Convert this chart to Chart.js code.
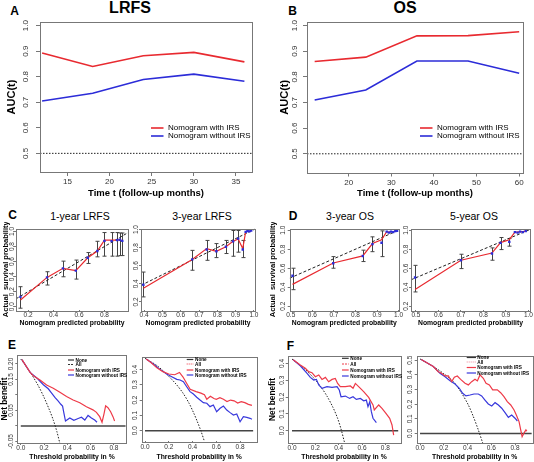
<!DOCTYPE html>
<html>
<head>
<meta charset="utf-8">
<script src="https://cdn.jsdelivr.net/npm/chart.js@4.4.1/dist/chart.umd.min.js"></script>
<style>
  html, body { margin: 0; padding: 0; background: #fff; }
  body { position: relative; width: 534px; height: 462px; overflow: hidden; font-family: 'Liberation Sans', Arial, sans-serif; }
  .t { position: absolute; transform: translate(-50%, -50%); white-space: nowrap; line-height: 1; color: #000; }
  .tag { font-weight: bold; font-size: 12px; }
  .big { font-weight: bold; font-size: 16px; }
  .sub { font-size: 10.5px; }
  canvas { position: absolute; }
</style>
</head>
<body>
<div class="t tag" style="left:14.5px;top:11px">A</div>
<div class="t big" style="left:130px;top:8px">LRFS</div>
<div class="t tag" style="left:292.5px;top:11px">B</div>
<div class="t big" style="left:405px;top:8px">OS</div>
<div class="t tag" style="left:12.5px;top:215px">C</div>
<div class="t sub" style="left:80px;top:215.5px">1-year LRFS</div>
<div class="t sub" style="left:202px;top:215.5px">3-year LRFS</div>
<div class="t tag" style="left:293px;top:216px">D</div>
<div class="t sub" style="left:350px;top:215.5px">3-year OS</div>
<div class="t sub" style="left:474px;top:215.5px">5-year OS</div>
<div class="t tag" style="left:12px;top:345px">E</div>
<div class="t tag" style="left:290.5px;top:345.5px">F</div>
<script>
// ---- A / B: time-dependent AUC ----
const lrfsMonths = [12, 18, 24, 30, 36];
const lrfsAucWith = [0.893, 0.840, 0.882, 0.895, 0.858];
const lrfsAucWithout = [0.705, 0.735, 0.789, 0.810, 0.782];
const osMonths = [12, 24, 36, 48, 60];
const osAucWith = [0.860, 0.877, 0.960, 0.961, 0.976];
const osAucWithout = [0.710, 0.749, 0.862, 0.862, 0.814];
const aucRef = 0.5;
const aucTicks = [0.5, 0.6, 0.7, 0.8, 0.9, 1.0];
const lrfsMonthTicks = [15, 20, 25, 30, 35];
const osMonthTicks = [20, 30, 40, 50, 60];
const modelNames = ['Nomogram with IRS', 'Nomogram without IRS'];

// ---- C / D: calibration (predicted, observed, fitted line, error bars) ----
const lrfs1Pred = [0.14, 0.349, 0.474, 0.575, 0.669, 0.744, 0.80, 0.856, 0.90, 0.92, 0.94];
const lrfs1Obs  = [0.13, 0.39, 0.51, 0.48, 0.65, 0.74, 0.876, 0.872, 0.885, 0.89, 0.875];
const lrfs1Fit  = [0.09, 0.39, 0.51, 0.48, 0.65, 0.74, 0.885, 0.885, 0.885, 0.89, 0.88];
const lrfs1Lo   = [-0.02, 0.288, 0.398, 0.367, 0.575, 0.663, 0.672, 0.672, 0.672, 0.68, 0.68];
const lrfs1Hi   = [0.266, 0.465, 0.606, 0.62, 0.72, 0.87, 0.986, 0.986, 0.986, 0.98, 0.98];

const lrfs3Pred = [0.396, 0.663, 0.742, 0.795, 0.847, 0.886, 0.914, 0.939, 0.955, 0.965, 0.975, 0.985];
const lrfs3Obs  = [0.39, 0.67, 0.78, 0.76, 0.81, 0.87, 0.90, 0.78, 0.975, 0.985, 0.98, 0.99];
const lrfs3Fit  = [0.35, 0.67, 0.79, 0.76, 0.81, 0.87, 0.895, 0.79, 0.975, 0.985, 0.98, 0.99];
const lrfs3Lo   = [0.255, 0.55, 0.66, 0.69, 0.735, 0.705, 0.75, 0.69, null, null, null, null];
const lrfs3Hi   = [0.53, 0.77, 0.88, 0.845, 0.88, 0.99, 0.99, 0.88, null, null, null, null];

const os3Pred = [0.508, 0.697, 0.834, 0.879, 0.921, 0.945, 0.955, 0.965, 0.975, 0.985, 0.993];
const os3Obs  = [0.52, 0.652, 0.729, 0.854, 0.868, 0.985, 0.975, 0.985, 0.98, 0.99, 0.995];
const os3Fit  = [0.43, 0.655, 0.73, 0.86, 0.90, 0.985, 0.98, 0.985, 0.985, 0.99, 0.995];
const os3Lo   = [0.374, 0.6, 0.67, 0.774, 0.722, null, null, null, null, null, null];
const os3Hi   = [0.6, 0.722, 0.79, 0.93, 0.993, null, null, null, null, null, null];

const os5Pred = [0.496, 0.70, 0.838, 0.876, 0.915, 0.94, 0.952, 0.963, 0.975, 0.988];
const os5Obs  = [0.502, 0.684, 0.754, 0.867, 0.877, 0.98, 0.975, 0.985, 0.98, 0.99];
const os5Fit  = [0.375, 0.684, 0.76, 0.87, 0.90, 0.98, 0.98, 0.985, 0.985, 0.99];
const os5Lo   = [0.35, 0.596, 0.684, 0.796, 0.832, null, null, null, null, null];
const os5Hi   = [0.63, 0.747, 0.814, 0.923, 0.912, null, null, null, null, null];

const calTicksFull = [0, 0.2, 0.4, 0.6, 0.8, 1.0];
const calTicks = [0.2, 0.4, 0.6, 0.8, 1.0];
const predTicksLrfs1 = [0.2, 0.4, 0.6, 0.8];
const predTicksFine = [0.4, 0.5, 0.6, 0.7, 0.8, 0.9, 1.0];
const predTicksOs = [0.5, 0.6, 0.7, 0.8, 0.9, 1.0];

// ---- E / F: decision curves ----
const dcaNames = ['None', 'All', 'Nomogram with IRS', 'Nomogram without IRS'];
const dcaNone = 0;
const dcaThrTicks = [0, 0.2, 0.4, 0.6, 0.8];

const e1AllT = [0, 0.05, 0.1, 0.15, 0.2, 0.25, 0.28, 0.31, 0.335];
const e1AllNB = [0.216, 0.19, 0.162, 0.13, 0.092, 0.048, 0.018, -0.018, -0.055];
const e1WithT = [0.01, 0.08, 0.108, 0.165, 0.222, 0.279, 0.336, 0.393, 0.45, 0.507, 0.564, 0.62, 0.65, 0.678, 0.698, 0.715, 0.729, 0.749, 0.772, 0.792, 0.806];
const e1WithNB = [0.214, 0.173, 0.162, 0.148, 0.132, 0.122, 0.109, 0.095, 0.084, 0.075, 0.062, 0.052, 0.044, 0.03, 0.012, 0.039, 0.065, 0.059, 0.046, 0.03, 0.016];
const e1WoT = [0.01, 0.08, 0.137, 0.194, 0.236, 0.265, 0.293, 0.322, 0.344, 0.359, 0.37, 0.384, 0.421, 0.456, 0.493, 0.521, 0.55, 0.578, 0.607, 0.635, 0.655];
const e1WoNB = [0.214, 0.173, 0.155, 0.133, 0.12, 0.106, 0.092, 0.08, 0.07, 0.064, 0.042, 0.016, 0.026, 0.018, 0.024, 0.028, 0.019, 0.034, 0.026, 0.019, 0.012];

const e3AllT = [0, 0.1, 0.18, 0.26, 0.32, 0.37, 0.41, 0.44, 0.47, 0.5];
const e3AllNB = [0.472, 0.425, 0.37, 0.305, 0.245, 0.18, 0.115, 0.06, 0.0, -0.07];
const e3WithT = [0.01, 0.05, 0.1, 0.15, 0.2, 0.25, 0.29, 0.32, 0.35, 0.38, 0.43, 0.47, 0.5, 0.52, 0.55, 0.58, 0.6, 0.63, 0.66, 0.69, 0.72, 0.75, 0.78, 0.81, 0.84, 0.87, 0.9];
const e3WithNB = [0.468, 0.445, 0.41, 0.385, 0.37, 0.365, 0.38, 0.35, 0.31, 0.27, 0.255, 0.245, 0.235, 0.205, 0.225, 0.21, 0.205, 0.215, 0.205, 0.19, 0.2, 0.195, 0.18, 0.19, 0.183, 0.172, 0.165];
const e3WoT = [0.01, 0.07, 0.126, 0.182, 0.225, 0.267, 0.295, 0.323, 0.351, 0.379, 0.407, 0.435, 0.463, 0.491, 0.52, 0.547, 0.575, 0.603, 0.632, 0.66, 0.688, 0.716, 0.744, 0.772, 0.8, 0.828, 0.856, 0.884, 0.9];
const e3WoNB = [0.468, 0.435, 0.4, 0.37, 0.352, 0.335, 0.331, 0.32, 0.287, 0.255, 0.239, 0.218, 0.2, 0.183, 0.179, 0.157, 0.168, 0.124, 0.146, 0.161, 0.135, 0.118, 0.102, 0.109, 0.058, 0.091, 0.087, 0.081, 0.075];

const f3AllT = [0, 0.1, 0.18, 0.25, 0.3, 0.35, 0.39, 0.42, 0.45];
const f3AllNB = [0.426, 0.372, 0.318, 0.258, 0.205, 0.14, 0.075, 0.01, -0.07];
const f3WithT = [0.01, 0.071, 0.114, 0.143, 0.171, 0.2, 0.229, 0.257, 0.286, 0.314, 0.343, 0.371, 0.391, 0.414, 0.457, 0.5, 0.523, 0.543, 0.571, 0.614, 0.657, 0.694, 0.705, 0.743, 0.771, 0.8, 0.837, 0.857, 0.871];
const f3WithNB = [0.422, 0.39, 0.371, 0.351, 0.345, 0.321, 0.331, 0.305, 0.317, 0.291, 0.305, 0.311, 0.281, 0.262, 0.262, 0.266, 0.252, 0.281, 0.262, 0.232, 0.198, 0.153, 0.123, 0.153, 0.133, 0.107, 0.074, 0.034, -0.026];
const f3WoT = [0.01, 0.071, 0.129, 0.157, 0.186, 0.209, 0.229, 0.257, 0.3, 0.343, 0.386, 0.405, 0.42, 0.457, 0.494, 0.523, 0.551, 0.586, 0.614, 0.637, 0.651, 0.666, 0.68, 0.694, 0.723];
const f3WoNB = [0.422, 0.386, 0.341, 0.317, 0.301, 0.305, 0.272, 0.252, 0.262, 0.258, 0.262, 0.242, 0.202, 0.206, 0.192, 0.202, 0.186, 0.192, 0.178, 0.182, 0.143, 0.172, 0.113, 0.074, 0.048];

const f5AllT = [0, 0.112, 0.196, 0.281, 0.351, 0.407, 0.449, 0.491, 0.53];
const f5AllNB = [0.508, 0.456, 0.41, 0.353, 0.274, 0.194, 0.115, 0.024, -0.07];
const f5WithT = [0.01, 0.112, 0.154, 0.182, 0.211, 0.239, 0.267, 0.289, 0.314, 0.342, 0.379, 0.407, 0.435, 0.463, 0.483, 0.505, 0.533, 0.556, 0.584, 0.612, 0.651, 0.679, 0.707, 0.735, 0.764, 0.792, 0.811, 0.834, 0.848, 0.86, 0.878, 0.892, 0.9];
const f5WithNB = [0.504, 0.456, 0.421, 0.41, 0.392, 0.392, 0.353, 0.383, 0.392, 0.369, 0.342, 0.331, 0.353, 0.369, 0.358, 0.399, 0.376, 0.342, 0.331, 0.297, 0.297, 0.278, 0.251, 0.217, 0.194, 0.16, 0.126, 0.081, 0.024, -0.022, 0.006, 0.024, 0.015];
const f5WoT = [0.01, 0.112, 0.168, 0.211, 0.253, 0.295, 0.331, 0.359, 0.387, 0.421, 0.455, 0.491, 0.519, 0.547, 0.575, 0.604, 0.632, 0.66, 0.688, 0.716, 0.744, 0.772, 0.8, 0.82];
const f5WoNB = [0.504, 0.456, 0.41, 0.387, 0.36, 0.337, 0.308, 0.274, 0.256, 0.262, 0.269, 0.269, 0.256, 0.228, 0.201, 0.187, 0.21, 0.194, 0.172, 0.142, 0.11, 0.126, 0.104, 0.085];

// ---- drawing ----
const FONT = "'Liberation Sans', Arial, Helvetica, sans-serif";
const RED = '#e82a30', BLUE = '#2c2cd8', DRED = '#ee3a48', DBLUE = '#3838dc';

const xy = (xs, ys) => xs.map((x, i) => ({x, y: ys[i]}));
const flat = (xs, y) => xs.map(x => ({x, y}));

function line(data, color, width, dash, more) {
  return Object.assign({data, showLine: true, borderColor: color, backgroundColor: color,
    borderWidth: width, borderDash: dash || [], pointRadius: 0, tension: 0}, more);
}

function axis(o, isX, size) {
  const show = o.show || o.ticks;
  return {
    type: 'linear', position: isX ? 'bottom' : 'left', bounds: 'data', min: o.min, max: o.max,
    afterBuildTicks: s => { s.ticks = o.ticks.map(v => ({value: v})); },
    afterFit: s => {
      if (isX) s.height = size; else s.width = size;
      s.paddingLeft = s.paddingRight = s.paddingTop = s.paddingBottom = 0;
    },
    border: {display: false},
    grid: {drawOnChartArea: false, tickLength: o.tl, color: '#777'},
    ticks: Object.assign({
      autoSkip: false, padding: o.pad, color: '#333',
      font: {family: FONT, size: o.fs, lineHeight: 1},
      callback: v => show.some(s => Math.abs(s - v) < 1e-9) ? v.toFixed(o.dec) : ''
    }, isX ? {maxRotation: 0, minRotation: 0} : {minRotation: 90, maxRotation: 90, crossAlign: 'center'}),
    title: {display: !!o.title, text: o.title || '', color: '#000',
      font: {family: FONT, size: o.tfs || 8, weight: 'bold', lineHeight: 1},
      padding: isX ? {top: 0, bottom: o.tpad} : {top: o.tpad, bottom: 0}}
  };
}

const frame = {
  id: 'frame',
  afterDatasetsDraw(chart) {
    const {ctx, chartArea: a} = chart;
    ctx.save();
    ctx.strokeStyle = '#777'; ctx.lineWidth = 1;
    ctx.strokeRect(Math.round(a.left) + 0.5, Math.round(a.top) + 0.5,
      Math.round(a.right - a.left), Math.round(a.bottom - a.top));
    ctx.restore();
  }
};

function errBars(e) {
  return {
    id: 'errBars',
    beforeDatasetsDraw(chart) {
      const {ctx, scales: {x, y}} = chart;
      ctx.save();
      ctx.strokeStyle = '#444'; ctx.lineWidth = 1;
      e.at.forEach((v, i) => {
        if (e.lo[i] == null) return;
        const px = Math.round(x.getPixelForValue(v)) + 0.5;
        const a = y.getPixelForValue(e.lo[i]), b = y.getPixelForValue(e.hi[i]);
        ctx.beginPath();
        ctx.moveTo(px, a); ctx.lineTo(px, b);
        ctx.moveTo(px - 2, a); ctx.lineTo(px + 2, a);
        ctx.moveTo(px - 2, b); ctx.lineTo(px + 2, b);
        ctx.stroke();
      });
      ctx.restore();
    }
  };
}

// legend drawn inside the plot, like R's legend(); sx squeezes the text horizontally
function key(k, r) {
  return {
    id: 'key',
    afterDraw(chart) {
      const ctx = chart.ctx;
      ctx.save();
      ctx.font = k.font; ctx.textBaseline = 'middle'; ctx.fillStyle = '#000';
      k.items.forEach((it, i) => {
        const y = k.rows[i] - r.t;
        ctx.beginPath();
        ctx.strokeStyle = it.color; ctx.lineWidth = it.w || 1.2; ctx.setLineDash(it.dash || []);
        ctx.moveTo(k.x0 - r.l, y); ctx.lineTo(k.x1 - r.l, y); ctx.stroke();
        ctx.save();
        ctx.translate(k.tx - r.l, y);
        ctx.scale(k.sx || 1, 1);
        ctx.fillText(it.text, 0, 0);
        ctx.restore();
      });
      ctx.restore();
    }
  };
}

function plot(r, b, xo, yo, sets, extras) {
  const cv = document.createElement('canvas');
  cv.width = r.w; cv.height = r.h;
  cv.style.left = r.l + 'px'; cv.style.top = r.t + 'px';
  document.body.appendChild(cv);
  const plugins = [frame];
  if (extras && extras.err) plugins.push(errBars(extras.err));
  if (extras && extras.key) plugins.push(key(extras.key, r));
  return new Chart(cv, {
    type: 'scatter',
    data: {datasets: sets},
    options: {
      responsive: false, animation: false, events: [],
      layout: {padding: {left: 0, bottom: 0, top: b.t - r.t, right: r.l + r.w - b.r}},
      scales: {x: axis(xo, true, r.t + r.h - b.b), y: axis(yo, false, b.l - r.l)},
      plugins: {legend: {display: false}, tooltip: {enabled: false}}
    },
    plugins
  });
}

// A / B
function aucPanel(r, b, months, withIrs, withoutIrs, xmin, xmax, xticks, ypad, tpad, keyX) {
  plot(r, b,
    {min: xmin, max: xmax, ticks: xticks, dec: 0, fs: 8, tl: 4, pad: 2, title: 'Time t (follow-up months)', tfs: 9.5, tpad: 2},
    {min: 0.427, max: 1.014, ticks: aucTicks, dec: 1, fs: 8, tl: 4, pad: ypad, title: 'AUC(t)', tfs: 11, tpad: tpad},
    [line(xy(months, withIrs), RED, 1.6),
     line(xy(months, withoutIrs), BLUE, 1.6),
     line(flat([xmin, xmax], aucRef), '#222', 1, [1.5, 1.5])],
    {key: {x0: keyX, x1: keyX + 12.5, tx: keyX + 17, rows: [128, 136], font: `8px ${FONT}`,
      items: [{text: modelNames[0], color: RED, w: 1.6}, {text: modelNames[1], color: BLUE, w: 1.6}]}});
}
aucPanel({l: 0, t: 14, w: 262, h: 186}, {l: 40, t: 22, r: 252, b: 172},
  lrfsMonths, lrfsAucWith, lrfsAucWithout, 11.75, 36.9, lrfsMonthTicks, 4.4, 6.5, 151);
aucPanel({l: 267, t: 14, w: 267, h: 186}, {l: 307, t: 22, r: 523, b: 172.5},
  osMonths, osAucWith, osAucWithout, 10.2, 60.9, osMonthTicks, 2.4, 12.8, 420);

// C / D
function calPanel(r, b, xr, yr, xticks, yticks, ypad, ytitle, tpad, pred, obs, fit, lo, hi) {
  plot(r, b,
    {min: xr[0], max: xr[1], ticks: xticks, dec: 1, fs: 6.5, tl: 2, pad: 0, title: 'Nomogram predicted probability', tfs: 6.8, tpad: 0.5},
    {min: yr[0], max: yr[1], ticks: yticks, dec: 1, fs: 6.5, tl: 2, pad: ypad, title: ytitle, tfs: 7.5, tpad: tpad},
    [line(xy(pred, obs), BLUE, 0, [], {showLine: false, pointRadius: 1.7, pointStyle: 'rect', pointBorderWidth: 0}),
     line(xy(pred, fit), RED, 1.2),
     line(xy(xr, xr), '#222', 1, [3, 2])],
    {err: {at: pred, lo, hi}});
}
const calY = 'Actual  survival probability';
calPanel({l: 0, t: 222, w: 132, h: 105}, {l: 16, t: 228.5, r: 130, b: 310}, [0.105, 0.985], [-0.044, 1.04],
  predTicksLrfs1, calTicksFull, -3, calY, 1.75, lrfs1Pred, lrfs1Obs, lrfs1Fit, lrfs1Lo, lrfs1Hi);
calPanel({l: 132, t: 222, w: 130, h: 105}, {l: 141, t: 228.5, r: 255, b: 310}, [0.383, 1.006], [0.11, 1.012],
  predTicksFine, calTicks, -2, '', 0, lrfs3Pred, lrfs3Obs, lrfs3Fit, lrfs3Lo, lrfs3Hi);
calPanel({l: 267, t: 222, w: 136, h: 105}, {l: 289.7, t: 228.5, r: 400.3, b: 310}, [0.495, 1.002], [0.16, 1.018],
  predTicksOs, calTicks, -0.5, calY, 2.25, os3Pred, os3Obs, os3Fit, os3Lo, os3Hi);
calPanel({l: 403, t: 222, w: 131, h: 105}, {l: 411, t: 228.5, r: 532, b: 310}, [0.478, 1.007], [0.16, 1.018],
  predTicksOs, calTicks, -1.5, '', 0, os5Pred, os5Obs, os5Fit, os5Lo, os5Hi);

// E / F
function dcaPanel(r, b, xr, yo, xpad, noneT, allT, allNB, wT, wNB, woT, woNB, k, allStyle) {
  plot(r, b,
    {min: xr[0], max: xr[1], ticks: dcaThrTicks, dec: 1, fs: 6.5, tl: 2, pad: xpad, title: 'Threshold probability in %', tfs: 6.8, tpad: 1},
    Object.assign({dec: 1, fs: 6.5, tl: 2, tfs: 8.3}, yo),
    [line(xy(wT, wNB), DRED, 1.2),
     line(xy(woT, woNB), DBLUE, 1.2),
     line(xy(allT, allNB), '#222', 1, [1.5, 1.5], {tension: 0.3}),
     line(flat(noneT, dcaNone), '#444', 1.4)],
    {key: Object.assign({font: `bold 6px ${FONT}`, sx: 0.78, items: [
      {text: dcaNames[0], color: '#333', w: 1.2},
      {text: dcaNames[1], color: allStyle.color, dash: allStyle.dash, w: 1},
      {text: dcaNames[2], color: DRED, w: 1.2},
      {text: dcaNames[3], color: DBLUE, w: 1.2}]}, k)});
}
dcaPanel({l: 0, t: 350, w: 130, h: 112}, {l: 17.3, t: 355, r: 126.7, b: 443}, [-0.03, 0.91],
  {min: -0.055, max: 0.229, ticks: [-0.05, 0, 0.05, 0.1, 0.15, 0.2], show: [-0.05, 0.05, 0.15, 0.2], dec: 2, pad: -3.4, title: 'Net benefit', tpad: 0.6},
  0, [0, 0.9], e1AllT, e1AllNB, e1WithT, e1WithNB, e1WoT, e1WoNB,
  {x0: 68, x1: 74, tx: 75.5, rows: [360, 364.5, 370, 375]}, {color: '#333', dash: [2, 1]});
dcaPanel({l: 130, t: 350, w: 130, h: 112}, {l: 141.7, t: 356.5, r: 256.7, b: 441}, [-0.028, 0.94],
  {min: -0.067, max: 0.484, ticks: [0, 0.1, 0.2, 0.3, 0.4], pad: 0.2},
  1, [0, 0.91], e3AllT, e3AllNB, e3WithT, e3WithNB, e3WoT, e3WoNB,
  {x0: 186.7, x1: 193.3, tx: 195, rows: [359.5, 364, 370, 375]}, {color: DRED, dash: [1, 1]});
dcaPanel({l: 267, t: 350, w: 136, h: 112}, {l: 287.7, t: 356, r: 400.3, b: 443}, [-0.037, 0.928],
  {min: -0.073, max: 0.444, ticks: [0, 0.1, 0.2, 0.3, 0.4], pad: -0.8, title: 'Net benefit', tpad: 1.85},
  0, [0, 0.91], f3AllT, f3AllNB, f3WithT, f3WithNB, f3WoT, f3WoNB,
  {x0: 342, x1: 348.7, tx: 350.3, rows: [358.3, 364, 370, 376]}, {color: DRED, dash: [2, 1]});
dcaPanel({l: 403, t: 350, w: 131, h: 112}, {l: 416.7, t: 356, r: 532.7, b: 443.3}, [-0.028, 0.949],
  {min: -0.067, max: 0.528, ticks: [0, 0.1, 0.2, 0.3, 0.4, 0.5], pad: 0.2},
  0, [0, 0.94], f5AllT, f5AllNB, f5WithT, f5WithNB, f5WoT, f5WoNB,
  {x0: 466.7, x1: 476, tx: 477.3, rows: [357.5, 362, 367.5, 373]}, {color: '#f08898', dash: [1, 1]});
</script>
</body>
</html>
